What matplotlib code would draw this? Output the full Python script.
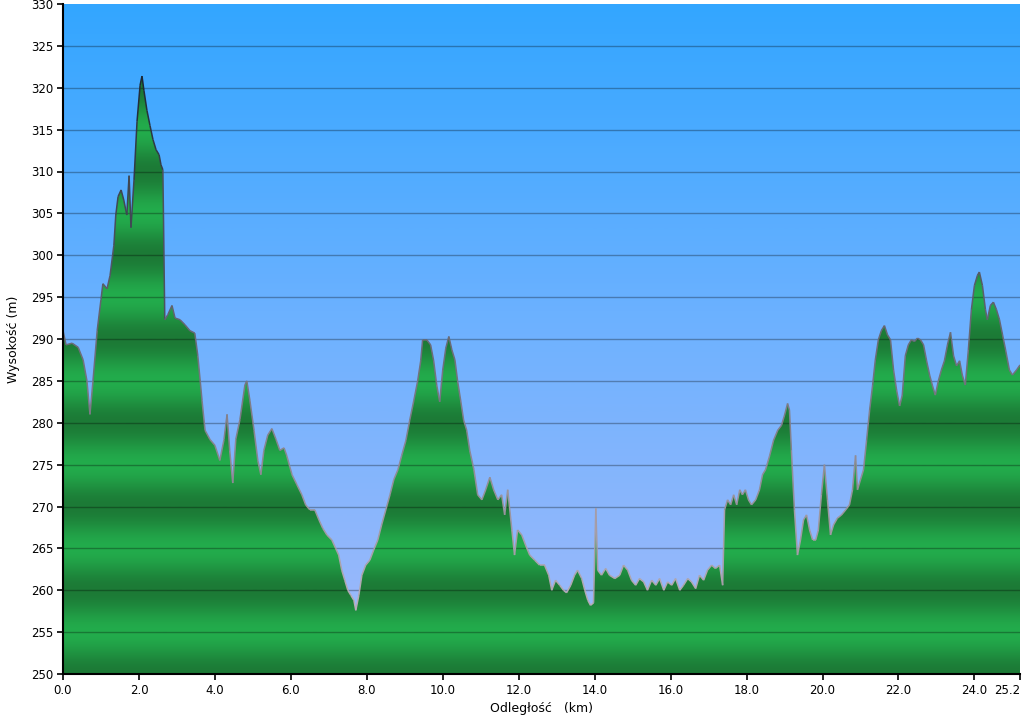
import numpy as np
import matplotlib
matplotlib.use("Agg")
import matplotlib.pyplot as plt
from matplotlib.colors import LinearSegmentedColormap
from matplotlib.collections import LineCollection
from matplotlib.patches import Polygon

distance_km = [
    0.0, 0.08, 0.24, 0.4, 0.53, 0.63, 0.71, 0.79, 0.9, 1.0, 1.05, 1.16, 1.24, 1.34, 1.39, 1.45,
    1.53, 1.6, 1.68, 1.74, 1.79, 1.87, 1.95, 2.03, 2.08, 2.13, 2.21, 2.29, 2.37, 2.45, 2.53, 2.58,
    2.63, 2.68, 2.76, 2.87, 2.95, 3.08, 3.21, 3.34, 3.47, 3.55, 3.66, 3.74, 3.87, 4.0, 4.13, 4.24,
    4.32, 4.39, 4.47, 4.55, 4.66, 4.79, 4.84, 4.92, 5.03, 5.13, 5.21, 5.29, 5.39, 5.5, 5.61, 5.71,
    5.82, 5.89, 6.03, 6.16, 6.29, 6.39, 6.5, 6.63, 6.74, 6.84, 6.95, 7.08, 7.18, 7.26, 7.34, 7.42,
    7.5, 7.58, 7.66, 7.71, 7.79, 7.87, 7.97, 8.08, 8.18, 8.29, 8.39, 8.5, 8.61, 8.71, 8.82, 8.92,
    9.03, 9.13, 9.24, 9.34, 9.42, 9.47, 9.58, 9.68, 9.76, 9.84, 9.92, 10.0, 10.08, 10.16, 10.24, 10.32,
    10.39, 10.47, 10.55, 10.63, 10.71, 10.82, 10.92, 11.03, 11.13, 11.24, 11.34, 11.45, 11.55, 11.63, 11.71, 11.82,
    11.89, 11.97, 12.08, 12.18, 12.29, 12.42, 12.55, 12.68, 12.79, 12.87, 12.97, 13.08, 13.18, 13.26, 13.37, 13.47,
    13.55, 13.66, 13.74, 13.82, 13.89, 13.97, 14.03, 14.08, 14.18, 14.29, 14.39, 14.53, 14.66, 14.76, 14.87, 14.97,
    15.08, 15.18, 15.29, 15.39, 15.5, 15.61, 15.71, 15.82, 15.92, 16.03, 16.13, 16.24, 16.34, 16.45, 16.55, 16.66,
    16.76, 16.87, 16.97, 17.08, 17.18, 17.29, 17.37, 17.42, 17.5, 17.58, 17.66, 17.74, 17.82, 17.89, 17.97, 18.05,
    18.13, 18.24, 18.34, 18.42, 18.5, 18.61, 18.71, 18.82, 18.92, 19.0, 19.08, 19.13, 19.18, 19.26, 19.34, 19.42,
    19.5, 19.58, 19.66, 19.74, 19.82, 19.89, 19.97, 20.05, 20.13, 20.21, 20.29, 20.39, 20.5, 20.61, 20.71, 20.79,
    20.87, 20.92, 21.0, 21.08, 21.16, 21.24, 21.32, 21.39, 21.47, 21.55, 21.63, 21.71, 21.79, 21.87, 21.95, 22.03,
    22.1, 22.18, 22.26, 22.34, 22.42, 22.5, 22.58, 22.66, 22.74, 22.82, 22.89, 22.97, 23.05, 23.13, 23.21, 23.29,
    23.37, 23.45, 23.53, 23.61, 23.68, 23.76, 23.84, 23.92, 24.0, 24.08, 24.13, 24.21, 24.29, 24.34, 24.42, 24.5,
    24.58, 24.66, 24.74, 24.82, 24.92, 25.0, 25.11, 25.2,
]

elevation_m = [
    291.0, 289.3, 289.5, 289.0, 287.5, 285.0, 281.0, 285.0, 291.0, 294.7, 296.6, 296.0, 297.6, 301.2, 304.8, 307.0,
    307.8, 306.6, 304.8, 309.5, 303.3, 309.0, 316.0, 320.3, 321.4, 319.7, 317.3, 315.5, 313.8, 312.6, 312.0, 310.8,
    310.2, 292.3, 292.9, 294.0, 292.5, 292.3, 291.7, 291.0, 290.7, 288.0, 282.7, 279.1, 278.0, 277.3, 275.5, 278.0,
    281.0, 276.7, 272.8, 278.0, 280.4, 284.5, 285.0, 282.7, 279.1, 275.5, 273.8, 276.7, 278.5, 279.3, 278.0, 276.7,
    277.0, 276.1, 273.8, 272.6, 271.4, 270.2, 269.6, 269.6, 268.4, 267.4, 266.6, 266.0, 265.0, 264.2, 262.4, 261.2,
    260.0, 259.4, 258.8, 257.6, 259.4, 261.8, 263.0, 263.6, 264.8, 266.0, 267.8, 269.6, 271.4, 273.2, 274.4, 276.1,
    277.9, 280.3, 282.7, 285.0, 287.4, 289.9, 289.9, 289.3, 287.4, 284.5, 282.5, 286.3, 288.9, 290.3, 288.7, 287.5,
    285.0, 282.7, 280.3, 279.1, 276.7, 274.4, 271.4, 270.8, 272.0, 273.5, 272.0, 270.8, 271.4, 269.0, 272.0, 267.2,
    264.2, 267.2, 266.6, 265.4, 264.2, 263.6, 263.0, 263.0, 261.8, 260.0, 261.2, 260.6, 260.0, 259.7, 260.6, 261.8,
    262.4, 261.4, 260.0, 258.8, 258.2, 258.5, 269.8, 262.4, 261.8, 262.6, 261.8, 261.4, 261.8, 263.0, 262.4, 261.2,
    260.6, 261.4, 261.0, 260.0, 261.2, 260.6, 261.4, 260.0, 261.0, 260.6, 261.4, 260.0, 260.6, 261.4, 261.0, 260.2,
    261.8, 261.2, 262.4, 263.0, 262.6, 263.0, 260.6, 269.6, 270.8, 270.2, 271.4, 270.2, 272.0, 271.4, 272.0, 270.8,
    270.2, 270.8, 272.0, 273.8, 274.4, 276.1, 277.9, 279.1, 279.7, 280.9, 282.3, 281.5, 276.7, 269.6, 264.2, 266.0,
    268.4, 269.0, 267.2, 266.0, 266.0, 267.2, 271.4, 275.0, 270.8, 266.6, 267.8, 268.6, 269.0, 269.6, 270.2, 272.0,
    276.1, 272.0, 273.2, 274.4, 277.9, 281.5, 284.5, 287.5, 289.9, 291.0, 291.6, 290.5, 289.9, 286.3, 283.9, 282.0,
    283.3, 288.0, 289.3, 289.9, 289.7, 290.1, 289.9, 289.3, 287.4, 285.7, 284.5, 283.3, 285.0, 286.3, 287.4, 289.3,
    290.8, 288.0, 286.8, 287.4, 285.7, 284.5, 288.7, 293.5, 296.4, 297.6, 298.0, 296.4, 293.5, 292.3, 294.0, 294.4,
    293.5, 292.3, 290.5, 288.7, 286.3, 285.7, 286.3, 286.9,
]

x_ticks = [0.0, 2.0, 4.0, 6.0, 8.0, 10.0, 12.0, 14.0, 16.0, 18.0, 20.0, 22.0, 24.0, 25.2]
y_ticks = list(range(250, 331, 5))
x_label = "Odległość   (km)"
y_label = "Wysokość (m)"

d = np.array(distance_km)
e = np.array(elevation_m)
assert len(d) == len(e)

x0, x1, y0, y1 = 0.0, 25.2, 250, 330

fig = plt.figure(figsize=(10.24, 7.2), dpi=100)
ax = fig.add_axes([63 / 1024, 46 / 720, 957 / 1024, 670 / 720])
ax.set_xlim(x0, x1)
ax.set_ylim(y0, y1)

# sky gradient
sky_cmap = LinearSegmentedColormap.from_list("sky", ["#A3BAFA", "#70B2FF", "#33A6FF"])
sky = np.linspace(0, 1, 400).reshape(-1, 1)
ax.imshow(sky, extent=[x0, x1, y0, y1], origin="lower", aspect="auto",
          cmap=sky_cmap, zorder=0, interpolation="bilinear")

# green banded fill
yy = np.linspace(y0, y1, 1600)
band = 0.5 * (1 + np.cos(2 * np.pi * (yy - y0) / 10.0))
green_cmap = LinearSegmentedColormap.from_list("grn", ["#23AC4C", "#1C7A36"])
im = ax.imshow(band.reshape(-1, 1), extent=[x0, x1, y0, y1], origin="lower",
               aspect="auto", cmap=green_cmap, zorder=1, interpolation="bilinear")
verts = list(zip(d, e)) + [(d[-1], y0), (d[0], y0)]
poly = Polygon(verts, closed=True, transform=ax.transData,
               facecolor="none", edgecolor="none")
ax.add_patch(poly)
im.set_clip_path(poly)

# outline coloured by height
pts = np.column_stack([d, e])
segs = np.stack([pts[:-1], pts[1:]], axis=1)
mid = (e[:-1] + e[1:]) / 2
t = np.clip((mid - 258) / (322 - 258), 0, 1)
light = np.array([0.72, 0.68, 0.72])
dark = np.array([0.10, 0.15, 0.20])
cols = [tuple(light + (dark - light) * v) for v in t]
lc = LineCollection(segs, colors=cols, linewidths=1.1, zorder=4)
ax.add_collection(lc)

# grid
ax.set_yticks(y_ticks)
ax.set_xticks(x_ticks)
ax.set_xticklabels([f"{v:.1f}" for v in x_ticks])
for yv in y_ticks[1:-1]:
    ax.axhline(yv, color="#000000", alpha=0.3, lw=1.0, zorder=3)

for s in ["top", "right"]:
    ax.spines[s].set_visible(False)
for s in ["left", "bottom"]:
    ax.spines[s].set_linewidth(1.5)
    ax.spines[s].set_color("black")
    ax.spines[s].set_zorder(5)
ax.tick_params(direction="out", length=4, width=1.2, labelsize=8.5, colors="black", pad=3)
ax.get_xticklabels()[-1].set_horizontalalignment("right")

ax.set_xlabel(x_label, fontsize=9, labelpad=4)
ax.set_ylabel(y_label, fontsize=9, labelpad=8)

fig.savefig("out.png", dpi=100)
